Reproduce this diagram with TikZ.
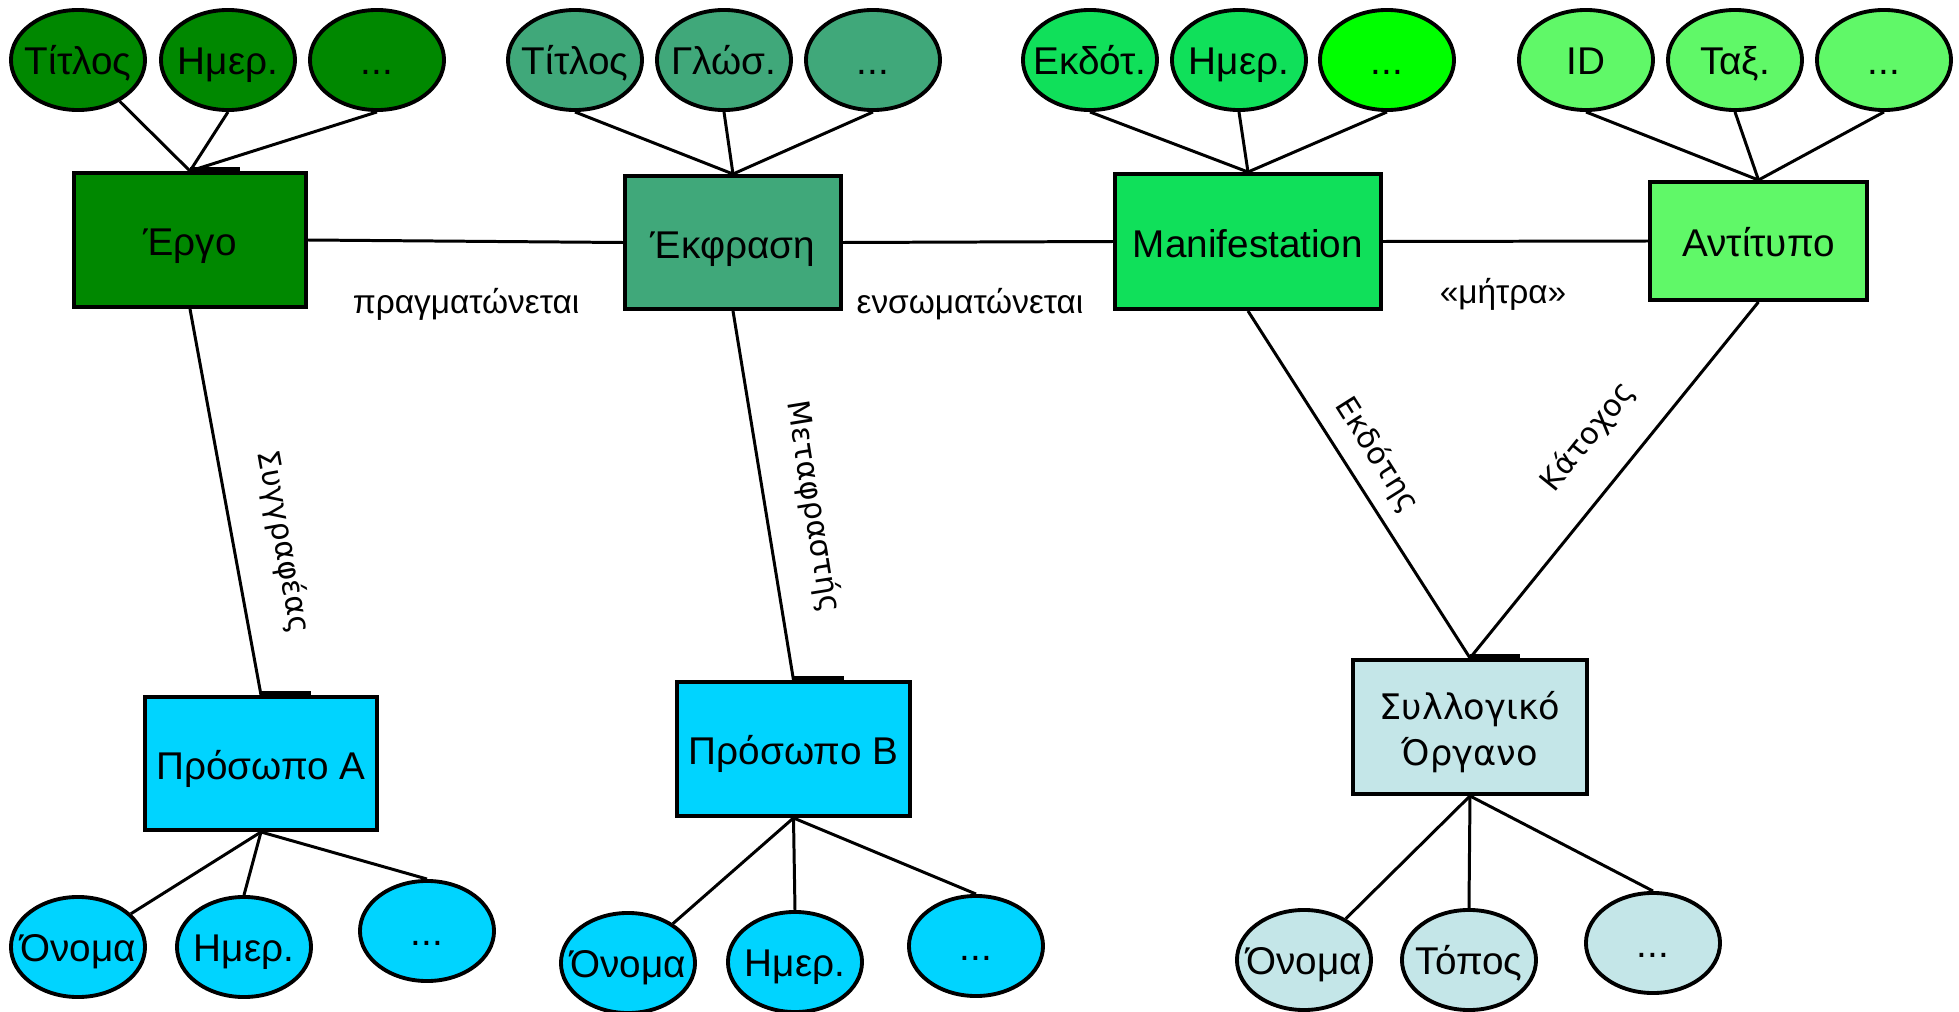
\documentclass[tikz,border=0pt]{standalone}
\usepackage{fontspec}
\setmainfont{Liberation Sans}
\newfontfamily\dvfont{DejaVu Sans}
\usetikzlibrary{shapes.geometric}
\definecolor{workc}{RGB}{0,136,0}
\definecolor{exprc}{RGB}{64,168,122}
\definecolor{manic}{RGB}{16,224,90}
\definecolor{manid}{RGB}{0,255,0}
\definecolor{itemc}{RGB}{96,248,104}
\definecolor{persc}{RGB}{0,212,255}
\definecolor{corpc}{RGB}{196,230,232}
\newcommand\attrtext[1]{\makebox[0pt]{#1}}
\begin{document}
\begin{tikzpicture}[x=0.01cm,y=-0.01cm,
  ent/.style={draw=black, line width=1.1pt, inner sep=0pt, font=\fontsize{11}{13}\selectfont,
    text height=10.5pt, text depth=1.5pt},
  attr/.style={ellipse, draw=black, line width=1.1pt, minimum width=1.34cm, minimum height=1.0cm, inner sep=0pt,
    font=\fontsize{11}{13}\selectfont, text height=9.5pt, text depth=1.5pt},
  conn/.style={line width=0.85pt},
  tick/.style={line width=1.1pt},
  rel/.style={font=\fontsize{9.5}{11}\selectfont, inner sep=0pt},
  rlab/.style={font=\dvfont\fontsize{8.6}{10}\selectfont, inner sep=0pt},
  ]
\useasboundingbox (0,0) rectangle (1959,1012);

% entity boxes
\node[ent, fill=workc, minimum width=2.32cm, minimum height=1.34cm] (ergo) at (190,240) {Έργο};
\node[ent, fill=exprc, minimum width=2.16cm, minimum height=1.33cm] (ekfr) at (733,242.5) {Έκφραση};
\node[ent, fill=manic, minimum width=2.66cm, minimum height=1.35cm] (mani) at (1248,241.5) {Manifestation};
\node[ent, fill=itemc, minimum width=2.17cm, minimum height=1.18cm] (anti) at (1758.5,241) {Αντίτυπο};
\node[ent, fill=persc, minimum width=2.32cm, minimum height=1.33cm] (persA) at (261,763.5) {Πρόσωπο A};
\node[ent, fill=persc, minimum width=2.33cm, minimum height=1.34cm] (persB) at (793.5,749) {Πρόσωπο B};
\node[draw=black, line width=1.1pt, inner sep=0pt, fill=corpc, minimum width=2.34cm, minimum height=1.34cm, align=center,
      font=\dvfont\fontsize{10}{13}\selectfont, text height=24pt, text depth=2pt] (corp) at (1470,727) {Συλλογικό\\Όργανο};

% top attributes
\node[attr, fill=workc] (w1) at (78,60) {\attrtext{Τίτλος}};
\node[attr, fill=workc] (w2) at (228,60) {\attrtext{Ημερ.}};
\node[attr, fill=workc] (w3) at (377,60) {\attrtext{...}};
\node[attr, fill=exprc] (e1) at (575,60) {\attrtext{Τίτλος}};
\node[attr, fill=exprc] (e2) at (724,60) {\attrtext{Γλώσ.}};
\node[attr, fill=exprc] (e3) at (873,60) {\attrtext{...}};
\node[attr, fill=manic] (m1) at (1090,60) {\attrtext{Εκδότ.}};
\node[attr, fill=manic] (m2) at (1239,60) {\attrtext{Ημερ.}};
\node[attr, fill=manid] (m3) at (1387,60) {\attrtext{...}};
\node[attr, fill=itemc] (a1) at (1586,60) {\attrtext{ID}};
\node[attr, fill=itemc] (a2) at (1735,60) {\attrtext{Ταξ.}};
\node[attr, fill=itemc] (a3) at (1884,60) {\attrtext{...}};

% bottom attributes
\node[attr, fill=persc] (pa1) at (78,947) {\attrtext{Όνομα}};
\node[attr, fill=persc] (pa2) at (244,947) {\attrtext{Ημερ.}};
\node[attr, fill=persc] (pa3) at (427,931) {\attrtext{...}};
\node[attr, fill=persc] (pb1) at (628,963) {\attrtext{Όνομα}};
\node[attr, fill=persc] (pb2) at (795,962) {\attrtext{Ημερ.}};
\node[attr, fill=persc] (pb3) at (976,946) {\attrtext{...}};
\node[attr, fill=corpc] (c1) at (1304,960) {\attrtext{Όνομα}};
\node[attr, fill=corpc] (c2) at (1469,960) {\attrtext{Τόπος}};
\node[attr, fill=corpc] (c3) at (1653,943) {\attrtext{...}};

% attribute connectors
\draw[conn] (w1) -- (ergo.north);
\draw[conn] (w2.south) -- (ergo.north);
\draw[conn] (w3.south) -- (ergo.north);
\draw[conn] (e1.south) -- (ekfr.north);
\draw[conn] (e2.south) -- (ekfr.north);
\draw[conn] (e3.south) -- (ekfr.north);
\draw[conn] (m1.south) -- (mani.north);
\draw[conn] (m2.south) -- (mani.north);
\draw[conn] (m3.south) -- (mani.north);
\draw[conn] (a1.south) -- (anti.north);
\draw[conn] (a2.south) -- (anti.north);
\draw[conn] (a3.south) -- (anti.north);
\draw[conn] (persA.south) -- (pa1);
\draw[conn] (persA.south) -- (pa2.north);
\draw[conn] (persA.south) -- (pa3.north);
\draw[conn] (persB.south) -- (pb1);
\draw[conn] (persB.south) -- (pb2.north);
\draw[conn] (persB.south) -- (pb3.north);
\draw[conn] (corp.south) -- (c1);
\draw[conn] (corp.south) -- (c2.north);
\draw[conn] (corp.south) -- (c3.north);

% relationships
\draw[conn] (ergo.east) -- (ekfr.west);
\draw[conn] (ekfr.east) -- (mani.west);
\draw[conn] (mani.east) -- (anti.west);
\draw[conn] (ergo.south) -- (persA.north);
\draw[conn] (ekfr.south) -- (persB.north);
\draw[conn] (mani.south) -- (corp.north);
\draw[conn] (anti.south) -- (corp.north);

% small marks at box tops
\draw[tick] ([yshift=0.5pt]ergo.north) -- ++(50,0);
\draw[tick] ([yshift=0.5pt]persA.north) -- ++(50,0);
\draw[tick] ([yshift=0.5pt]persB.north) -- ++(50,0);
\draw[tick] ([yshift=0.5pt]corp.north) -- ++(50,0);

% relationship labels
\node[rel] (l1) at (466,304) {πραγματώνεται};
\node[rel] (l2) at (970,304) {ενσωματώνεται};
\node[rel] (l3) at (1503,294) {«μήτρα»};
\node[rlab, rotate=-79.7] (l4) at (283,542) {Συγγραφέας};
\node[rlab, rotate=-80.8] (l5) at (813,507) {Μεταφραστής};
\node[rlab, rotate=-57.7] (l6) at (1377,455) {Εκδότης};
\node[rlab, rotate=51.3] (l7) at (1588,437) {Κάτοχος};
\end{tikzpicture}
\end{document}
